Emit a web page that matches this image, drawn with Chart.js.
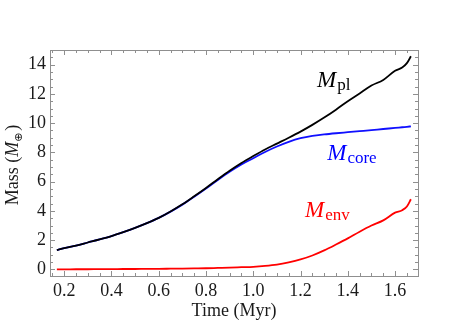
<!DOCTYPE html>
<html>
<head>
<meta charset="utf-8">
<script src="https://cdn.jsdelivr.net/npm/chart.js@4"></script>
<style>
  body { margin: 0; background: #fff; }
  canvas { display: block; }
</style>
</head>
<body>
<canvas id="massChart" width="467" height="327"></canvas>
<script>
// time in Myr
const times = [0.169, 0.2, 0.25, 0.3, 0.35, 0.4, 0.45, 0.5, 0.55, 0.6, 0.65, 0.7, 0.75, 0.8, 0.85, 0.9, 0.95,
  1.0, 1.05, 1.1, 1.15, 1.2, 1.25, 1.3, 1.35, 1.4, 1.45, 1.5, 1.55, 1.6, 1.63, 1.65, 1.667];
const mPl = [1.32, 1.45, 1.63, 1.84, 2.05, 2.28, 2.55, 2.84, 3.16, 3.52, 3.96, 4.45, 5.0, 5.57, 6.17, 6.75, 7.28,
  7.75, 8.2, 8.6, 9.0, 9.42, 9.88, 10.38, 10.92, 11.5, 12.03, 12.57, 12.95, 13.58, 13.8, 14.1, 14.57];
const mCore = [1.32, 1.45, 1.63, 1.84, 2.05, 2.28, 2.55, 2.84, 3.16, 3.52, 3.95, 4.43, 4.97, 5.53, 6.12, 6.68, 7.18,
  7.6, 8.03, 8.4, 8.72, 8.97, 9.13, 9.23, 9.31, 9.38, 9.45, 9.52, 9.6, 9.67, 9.72, 9.75, 9.78];
const mEnv = [0.0, 0.0, 0.01, 0.01, 0.02, 0.02, 0.03, 0.03, 0.04, 0.04, 0.05, 0.06, 0.07, 0.08, 0.1, 0.12, 0.15,
  0.18, 0.24, 0.33, 0.48, 0.68, 0.95, 1.3, 1.7, 2.12, 2.58, 3.0, 3.35, 3.88, 4.05, 4.3, 4.8];

const xTicks = [0.2, 0.4, 0.6, 0.8, 1.0, 1.2, 1.4, 1.6];
const yTicks = [0, 2, 4, 6, 8, 10, 12, 14];

// curve labels: [main, subscript, colour, x, y]
const curveLabels = [
  ['M', 'pl', '#000000', 1.27, 12.5],
  ['M', 'core', '#0000ff', 1.313, 7.45],
  ['M', 'env', '#ff0000', 1.219, 3.55]
];

const serif = '"Liberation Serif", "Times New Roman", serif';

function pts(ys) {
  return times.map((t, i) => ({ x: t, y: ys[i] }));
}

// Mathematica-style frame with inward ticks, axis titles and curve labels
const framePlugin = {
  id: 'frame',
  afterDraw(chart) {
    const ctx = chart.ctx;
    const a = chart.chartArea;
    const xs = chart.scales.x;
    const ys = chart.scales.y;
    ctx.save();
    ctx.strokeStyle = '#8f8f8f';
    ctx.lineWidth = 1;
    ctx.strokeRect(Math.round(a.left) + 0.5, Math.round(a.top) + 0.5,
      Math.round(a.right - a.left), Math.round(a.bottom - a.top));

    ctx.beginPath();
    for (let i = 0; i * 0.05 <= 1.75; i++) {
      const v = i * 0.05;
      if (v < xs.min || v > xs.max) continue;
      const len = (i % 4 === 0) ? 5 : 3;
      const px = Math.round(xs.getPixelForValue(v)) + 0.5;
      ctx.moveTo(px, a.bottom); ctx.lineTo(px, a.bottom - len);
      ctx.moveTo(px, a.top); ctx.lineTo(px, a.top + len);
    }
    for (let i = -1; i * 0.5 <= 15; i++) {
      const v = i * 0.5;
      if (v < ys.min || v > ys.max) continue;
      const len = (i % 4 === 0) ? 5 : 3;
      const py = Math.round(ys.getPixelForValue(v)) + 0.5;
      ctx.moveTo(a.left, py); ctx.lineTo(a.left + len, py);
      ctx.moveTo(a.right, py); ctx.lineTo(a.right - len, py);
    }
    ctx.stroke();

    // x title
    ctx.fillStyle = '#1a1a1a';
    ctx.font = '18px ' + serif;
    ctx.textAlign = 'center';
    ctx.textBaseline = 'alphabetic';
    ctx.fillText('Time (Myr)', (a.left + a.right) / 2, 316);

    // y title, rotated
    ctx.save();
    ctx.translate(18, 165);
    ctx.rotate(-Math.PI / 2);
    const parts = [
      ['Mass (', '18px ' + serif, 0],
      ['M', 'italic 18px ' + serif, 0],
      ['\u2295', '11px "DejaVu Sans", sans-serif', 4],
      [')', '18px ' + serif, 0]
    ];
    let total = 0;
    parts.forEach(p => { ctx.font = p[1]; total += ctx.measureText(p[0]).width + (p[0] === ')' ? 2 : 0); });
    let cx = -total / 2;
    ctx.textAlign = 'left';
    parts.forEach(p => {
      ctx.font = p[1];
      if (p[0] === ')') cx += 2;
      ctx.fillText(p[0], cx, p[2]);
      cx += ctx.measureText(p[0]).width;
    });
    ctx.restore();

    // curve labels
    curveLabels.forEach(([main, sub, col, x, y]) => {
      const px = xs.getPixelForValue(x);
      const py = ys.getPixelForValue(y);
      ctx.fillStyle = col;
      ctx.textAlign = 'left';
      ctx.font = 'italic 23px ' + serif;
      ctx.fillText(main, px, py);
      const w = ctx.measureText(main).width;
      ctx.font = '17px ' + serif;
      ctx.fillText(sub, px + w + 1, py + 3);
    });
    ctx.restore();
  }
};

new Chart(document.getElementById('massChart'), {
  type: 'line',
  data: {
    datasets: [
      { label: 'M_pl', data: pts(mPl), borderColor: '#000000', order: 1 },
      { label: 'M_core', data: pts(mCore), borderColor: '#1010ff', order: 2 },
      { label: 'M_env', data: pts(mEnv), borderColor: '#ff0000', order: 3 }
    ]
  },
  options: {
    responsive: false,
    animation: false,
    layout: { padding: { left: 0, top: 50, right: 49, bottom: 0 } },
    elements: {
      point: { radius: 0 },
      line: { borderWidth: 1.8, cubicInterpolationMode: 'monotone', fill: false }
    },
    plugins: { legend: { display: false }, tooltip: { enabled: false } },
    scales: {
      x: {
        type: 'linear',
        min: 0.14,
        max: 1.697,
        afterFit(s) { s.height = 51; },
        afterBuildTicks(s) { s.ticks = xTicks.map(v => ({ value: v })); },
        grid: { display: false, drawTicks: false },
        border: { display: false },
        ticks: {
          padding: 4,
          color: '#1a1a1a',
          font: { family: serif, size: 18 },
          maxRotation: 0,
          callback: v => v.toFixed(1)
        }
      },
      y: {
        type: 'linear',
        min: -0.45,
        max: 15,
        afterFit(s) { s.width = 50; },
        afterBuildTicks(s) { s.ticks = yTicks.map(v => ({ value: v })); },
        grid: { display: false, drawTicks: false },
        border: { display: false },
        ticks: {
          padding: 4,
          color: '#1a1a1a',
          font: { family: serif, size: 18 },
          callback: v => String(v)
        }
      }
    }
  },
  plugins: [framePlugin]
});
</script>
</body>
</html>
